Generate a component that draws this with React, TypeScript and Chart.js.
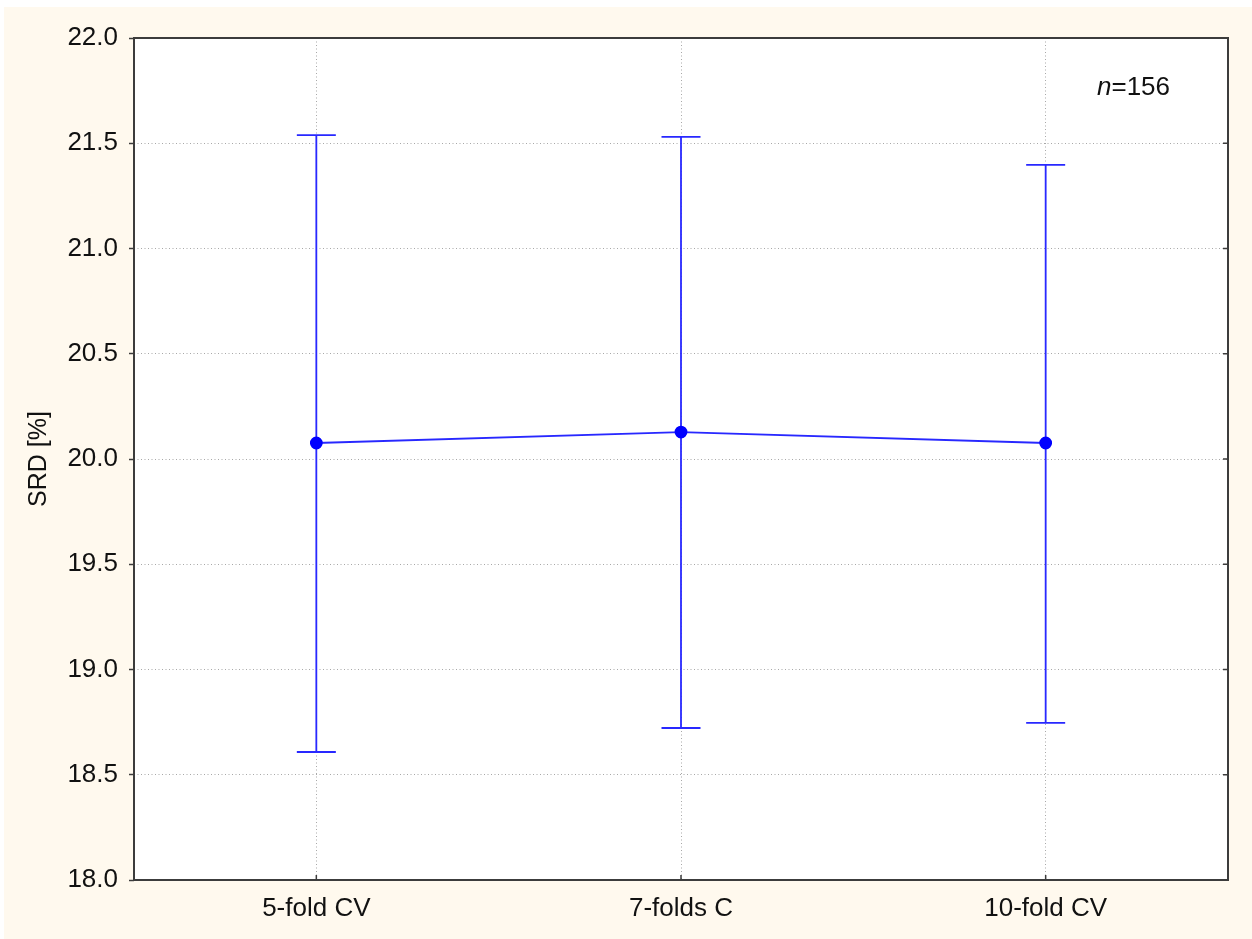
import React, { useEffect, useRef } from "react";
import { Chart, registerables } from "chart.js";

Chart.register(...registerables);

const categories = ["5-fold CV", "7-folds C", "10-fold CV"];
const means = [20.076, 20.128, 20.076];
const upper = [21.539, 21.53, 21.397];
const lower = [18.608, 18.722, 18.746];
const yMin = 18;
const yMax = 22;
const yStep = 0.5;
const annotationItalic = "n";
const annotationRest = "=156";

const FONT = "'Liberation Sans', Arial, sans-serif";
const BLUE = "rgb(40,40,255)";
const AXIS = "#3c3c3c";
const CREAM = "#FFF9EE";
const GRID = "#a8a8a8";

const framePlugin = {
  id: "frame",
  beforeDraw(chart: any) {
    const { ctx, chartArea, width, height } = chart;
    ctx.save();
    ctx.fillStyle = "#ffffff";
    ctx.fillRect(0, 0, width, height);
    ctx.fillStyle = CREAM;
    ctx.fillRect(4, 7, width - 4, height - 7);
    ctx.fillStyle = "#ffffff";
    ctx.fillRect(chartArea.left, chartArea.top, chartArea.right - chartArea.left, chartArea.bottom - chartArea.top);
    ctx.restore();
  },
  beforeDatasetsDraw(chart: any) {
    const { ctx } = chart;
    const xs = chart.scales.x;
    const ys = chart.scales.y;
    ctx.save();
    ctx.strokeStyle = BLUE;
    ctx.lineWidth = 1.8;
    for (let i = 0; i < categories.length; i++) {
      const x = xs.getPixelForValue(i);
      const yt = ys.getPixelForValue(upper[i]);
      const yb = ys.getPixelForValue(lower[i]);
      ctx.beginPath();
      ctx.moveTo(x, yt);
      ctx.lineTo(x, yb);
      ctx.moveTo(x - 19.5, yt);
      ctx.lineTo(x + 19.5, yt);
      ctx.moveTo(x - 19.5, yb);
      ctx.lineTo(x + 19.5, yb);
      ctx.stroke();
    }
    ctx.restore();
  },
  afterDraw(chart: any) {
    const { ctx, chartArea } = chart;
    const xs = chart.scales.x;
    const ys = chart.scales.y;
    ctx.save();
    ctx.strokeStyle = AXIS;
    ctx.lineWidth = 2;
    ctx.strokeRect(chartArea.left, chartArea.top, chartArea.right - chartArea.left, chartArea.bottom - chartArea.top);
    ctx.lineWidth = 1.5;
    ctx.beginPath();
    for (let i = 0; i < categories.length; i++) {
      const x = xs.getPixelForValue(i);
      ctx.moveTo(x, chartArea.bottom);
      ctx.lineTo(x, chartArea.bottom - 5);
    }
    for (let v = yMin + yStep; v < yMax; v += yStep) {
      const y = ys.getPixelForValue(v);
      ctx.moveTo(chartArea.right, y);
      ctx.lineTo(chartArea.right - 5, y);
    }
    ctx.stroke();
    ctx.fillStyle = "#111111";
    ctx.textBaseline = "alphabetic";
    ctx.textAlign = "left";
    ctx.font = `italic 26px ${FONT}`;
    const x0 = 1097;
    const base = 95;
    ctx.fillText(annotationItalic, x0, base);
    const w = ctx.measureText(annotationItalic).width;
    ctx.font = `26px ${FONT}`;
    ctx.fillText(annotationRest, x0 + w, base);
    ctx.restore();
  },
};

export default function App() {
  const ref = useRef<HTMLCanvasElement>(null);
  useEffect(() => {
    document.body.style.margin = "0";
    const chart = new Chart(ref.current as HTMLCanvasElement, {
      type: "line",
      data: {
        labels: categories,
        datasets: [
          {
            data: means,
            borderColor: BLUE,
            backgroundColor: BLUE,
            borderWidth: 1.8,
            pointRadius: 5.5,
            pointBackgroundColor: "#0000ff",
            pointBorderColor: "#0000ff",
            tension: 0,
          },
        ],
      },
      options: {
        animation: false,
        responsive: false,
        layout: { padding: { left: 0, top: 38, right: 24, bottom: 0 } },
        plugins: { legend: { display: false }, tooltip: { enabled: false } },
        scales: {
          x: {
            type: "category",
            offset: true,
            grid: {
              color: GRID,
              offset: false,
              drawTicks: false,
              tickLength: 0,
            } as any,
            border: { display: false, dash: [1, 2.5] } as any,
            ticks: {
              color: "#111111",
              font: { family: FONT, size: 26 },
              padding: 13,
              maxRotation: 0,
            },
            afterFit: (s: any) => {
              s.height = 59;
            },
          },
          y: {
            min: yMin,
            max: yMax,
            grid: {
              color: GRID,
              tickLength: 5,
              tickColor: AXIS,
              tickBorderDash: [],
              tickWidth: 1.5,
            } as any,
            border: { display: false, dash: [1, 2.5] } as any,
            ticks: {
              stepSize: yStep,
              color: "#111111",
              font: { family: FONT, size: 26 },
              padding: 11,
              callback: (v: any) => Number(v).toFixed(1),
            },
            title: {
              display: true,
              text: "SRD [%]",
              color: "#111111",
              font: { family: FONT, size: 25 },
              padding: { top: 24, bottom: 0 },
            },
            afterFit: (s: any) => {
              s.width = 134;
            },
          },
        },
      },
      plugins: [framePlugin],
    });
    return () => chart.destroy();
  }, []);
  return (
    <div style={{ width: 1252, height: 939, position: "absolute", left: 0, top: 0 }}>
      <canvas ref={ref} width={1252} height={939} style={{ width: 1252, height: 939, display: "block" }} />
    </div>
  );
}
